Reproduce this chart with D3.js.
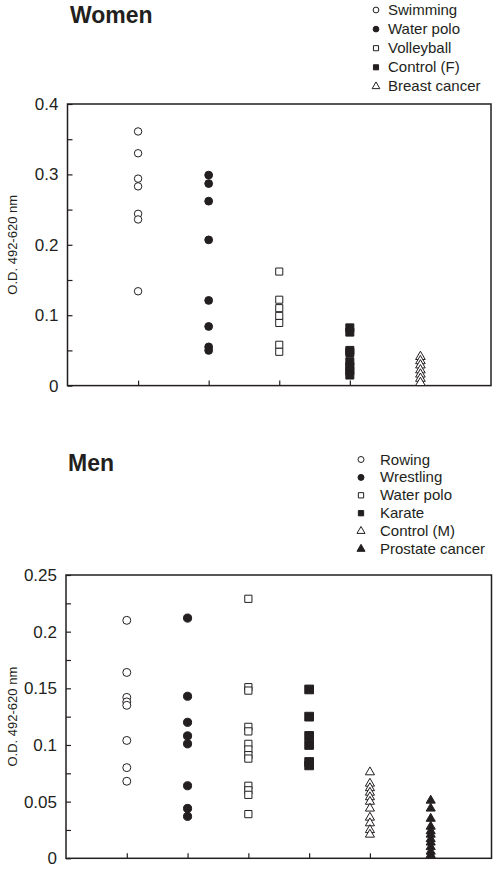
<!DOCTYPE html>
<html><head><meta charset="utf-8">
<script src="https://cdn.jsdelivr.net/npm/d3@7"></script>
<style>
html,body{margin:0;padding:0;background:#fff;}
svg{display:block;font-family:"Liberation Sans",Arial,Helvetica,sans-serif;}
</style></head>
<body><svg id="chart" width="495" height="869"></svg>
<script>
// ---------- Data ----------
const womenCategories = ["Swimming","Water polo","Volleyball","Control (F)","Breast cancer"];
const womenSymbols = ["circleOpen","circleFilled","squareOpen","squareFilled","triangleOpen"];
const womenSwimming   = [0.361, 0.330, 0.294, 0.283, 0.244, 0.236, 0.134];
const womenWaterPolo  = [0.299, 0.287, 0.262, 0.207, 0.121, 0.084, 0.055, 0.050];
const womenVolleyball = [0.162, 0.122, 0.110, 0.099, 0.089, 0.058, 0.048];
const womenControl    = [0.082, 0.076, 0.050, 0.047, 0.034, 0.027, 0.021, 0.015];
const womenBreast     = [0.041, 0.035, 0.029, 0.022, 0.016, 0.010, 0.004];
const womenTickValues = [0,0.05,0.1,0.15,0.2,0.25,0.3,0.35,0.4];
const womenTickLabels = ["0","","0.1","","0.2","","0.3","","0.4"];

const menCategories = ["Rowing","Wrestling","Water polo","Karate","Control (M)","Prostate cancer"];
const menSymbols = ["circleOpen","circleFilled","squareOpen","squareFilled","triangleOpen","triangleFilled"];
const menRowing    = [0.210, 0.164, 0.142, 0.138, 0.135, 0.104, 0.080, 0.068];
const menWrestling = [0.212, 0.143, 0.120, 0.108, 0.101, 0.064, 0.044, 0.037];
const menWaterPolo = [0.229, 0.151, 0.148, 0.116, 0.112, 0.101, 0.096, 0.091, 0.088, 0.064, 0.060, 0.056, 0.039];
const menKarate    = [0.149, 0.125, 0.108, 0.100, 0.085, 0.082];
const menControl   = [0.076, 0.066, 0.062, 0.058, 0.054, 0.050, 0.044, 0.036, 0.031, 0.025, 0.021];
const menProstate  = [0.051, 0.044, 0.035, 0.028, 0.024, 0.021, 0.017, 0.014, 0.010, 0.006, 0.003];
const menTickValues = [0,0.025,0.05,0.075,0.1,0.125,0.15,0.175,0.2,0.225,0.25];
const menTickLabels = ["0","","0.05","","0.1","","0.15","","0.2","","0.25"];

const yTitle = "O.D. 492-620 nm";
const INK = "#231f20";

const svg = d3.select("#chart");

function symbolPath(kind, size) {
  const type = kind.startsWith("circle") ? d3.symbolCircle :
               kind.startsWith("square") ? d3.symbolSquare : d3.symbolTriangle;
  return d3.symbol().type(type).size(size)();
}
function isFilled(kind){ return kind.endsWith("Filled"); }

function drawPanel(cfg) {
  const g = svg.append("g");
  const x = d3.scaleLinear().domain([0, cfg.categories.length + 1]).range([cfg.left, cfg.right]);
  const y = d3.scaleLinear().domain([0, cfg.yMax]).range([cfg.bottom, cfg.top]);

  // y axis ticks (inward)
  const yAxis = d3.axisLeft(y).tickValues(cfg.tickValues).tickSize(-5).tickPadding(9)
    .tickFormat((d,i) => cfg.tickLabels[i]);
  const ya = g.append("g").attr("transform", `translate(${cfg.left},0)`).call(yAxis);
  ya.select(".domain").remove();
  ya.selectAll("line").attr("stroke", INK).attr("stroke-width", 1.2);
  ya.selectAll("text").attr("font-size", 17).attr("fill", INK)
    .attr("font-family", '"Liberation Sans",Arial,Helvetica,sans-serif');

  // x axis ticks (inward)
  const xAxis = d3.axisBottom(x).tickValues(d3.range(1, cfg.categories.length + 1)).tickSize(-5).tickFormat("");
  const xa = g.append("g").attr("transform", `translate(0,${cfg.bottom})`).call(xAxis);
  xa.select(".domain").remove();
  xa.selectAll("line").attr("stroke", INK).attr("stroke-width", 1.2);

  // frame
  g.append("rect").attr("x", cfg.left).attr("y", cfg.top)
    .attr("width", cfg.right - cfg.left).attr("height", cfg.bottom - cfg.top)
    .attr("fill", "none").attr("stroke", INK).attr("stroke-width", 1.5);

  // y title
  g.append("text")
    .attr("transform", `translate(14,${(cfg.top + cfg.bottom) / 2}) rotate(-90)`)
    .attr("text-anchor", "middle").attr("dominant-baseline", "middle")
    .attr("font-size", 13).attr("fill", INK).text(yTitle);

  // points
  cfg.series.forEach((vals, i) => {
    const kind = cfg.symbols[i];
    const size = cfg.sizes[i];
    g.append("g").selectAll("path").data(vals).join("path")
      .attr("d", symbolPath(kind, size))
      .attr("transform", d => `translate(${x(i + 1)},${y(d)})`)
      .attr("fill", isFilled(kind) ? INK : "#fff")
      .attr("stroke", INK).attr("stroke-width", 1);
  });

  // title
  g.append("text").attr("x", cfg.titleX).attr("y", cfg.titleY)
    .attr("font-size", 23).attr("font-weight", "bold").attr("fill", INK).text(cfg.title);

  // legend
  cfg.categories.forEach((c, i) => {
    const ly = cfg.legendY + i * cfg.legendStep;
    g.append("path").attr("d", symbolPath(cfg.symbols[i], cfg.legendSize))
      .attr("transform", `translate(${cfg.legendMarkX},${ly - 5})`)
      .attr("fill", isFilled(cfg.symbols[i]) ? INK : "#fff")
      .attr("stroke", INK).attr("stroke-width", 1);
    g.append("text").attr("x", cfg.legendTextX).attr("y", ly)
      .attr("font-size", 15).attr("fill", INK).text(c);
  });
}

drawPanel({
  title: "Women", titleX: 70, titleY: 23,
  categories: womenCategories, symbols: womenSymbols,
  series: [womenSwimming, womenWaterPolo, womenVolleyball, womenControl, womenBreast],
  sizes: [44, 48, 50, 64, 40],
  yMax: 0.4, tickValues: womenTickValues, tickLabels: womenTickLabels,
  left: 67.5, right: 491, top: 104, bottom: 385.6,
  legendY: 15, legendStep: 19.1, legendMarkX: 376, legendTextX: 388, legendSize: 26
});

drawPanel({
  title: "Men", titleX: 68, titleY: 471,
  categories: menCategories, symbols: menSymbols,
  series: [menRowing, menWrestling, menWaterPolo, menKarate, menControl, menProstate],
  sizes: [50, 52, 52, 76, 36, 36],
  yMax: 0.25, tickValues: menTickValues, tickLabels: menTickLabels,
  left: 66, right: 491.5, top: 575, bottom: 858.3,
  legendY: 464.5, legendStep: 17.9, legendMarkX: 361, legendTextX: 380, legendSize: 28
});
</script>
</body></html>
